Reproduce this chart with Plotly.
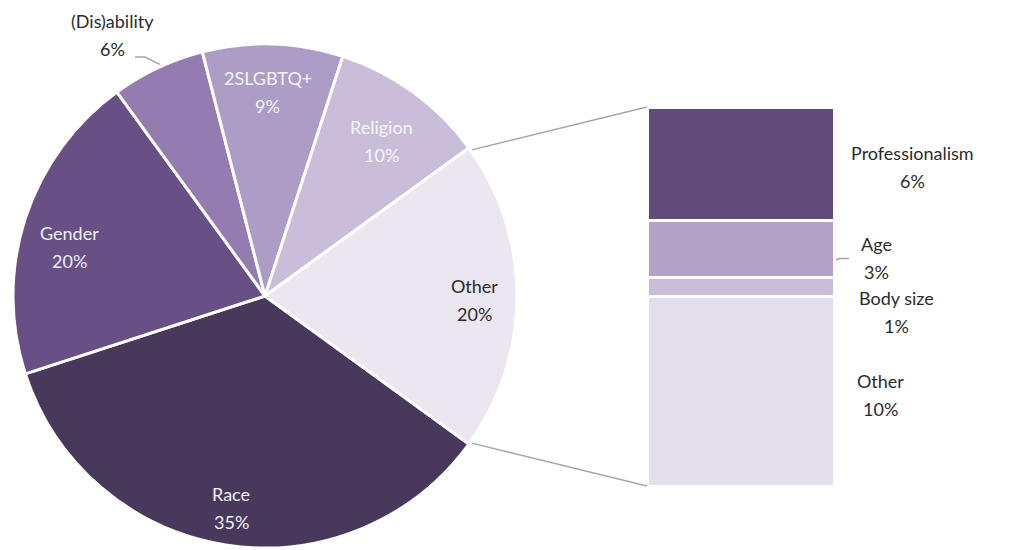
import math
import plotly.graph_objects as go

# Share of reported discrimination by basis (percent)
categories = ["Race", "Gender", "(Dis)ability", "2SLGBTQ+", "Religion", "Other"]
shares = [35, 20, 6, 9, 10, 20]

# Breakdown of the "Other" slice (percent of all responses)
other_parts = ["Professionalism", "Age", "Body size", "Other"]
other_shares = [6, 3, 1, 10]

pie_colors = ["#48395c", "#684f86", "#957cb0", "#ac9dc6", "#c9bdd9", "#ebe6f0"]
pie_text_colors = ["#f2f0f5", "#f2f0f5", "#2b2b2b", "#f5f3f8", "#f7f5fa", "#2b2b2b"]
bar_colors = ["#604b7b", "#b2a2c8", "#c9bdd9", "#e4dfec"]

W, H = 1012, 550
CX, CY, R = 265, 296, 252          # pie centre and radius in pixels
START = -36                        # first slice starts 36 deg below 3 o'clock, runs clockwise
BAR_X0, BAR_X1 = 647, 834          # stacked bar extent in pixels
BAR_Y0, BAR_Y1 = 107, 486
FONT = "Lato"
FONT_SIZE = 18
LINE_GAP = 14                      # half the distance between a label's two lines
TEXT = "#2b2b2b"
LINE = "#a6a6a6"


def px(x):
    return x / W


def py(y):
    return 1 - y / H


def on_circle(angle_deg, frac=1.0):
    a = math.radians(angle_deg)
    return CX + frac * R * math.cos(a), CY - frac * R * math.sin(a)


def two_line_label(name, value, color, **pos):
    """Name above, percentage below, each as its own annotation."""
    out = []
    for txt, dy in ((name, LINE_GAP), (f"{value}%", -LINE_GAP)):
        a = dict(pos)
        a["yshift"] = a.get("yshift", 0) + dy
        a.update(text=txt, showarrow=False, xanchor="center", yanchor="middle",
                 font=dict(family=FONT, size=FONT_SIZE, color=color))
        out.append(a)
    return out


fig = go.Figure()

fig.add_trace(go.Pie(
    labels=categories,
    values=shares,
    sort=False,
    direction="clockwise",
    rotation=90 - START,
    marker=dict(colors=pie_colors, line=dict(color="white", width=3)),
    textinfo="none",
    hoverinfo="skip",
    showlegend=False,
    domain=dict(x=[px(CX - R), px(CX + R)], y=[py(CY + R), py(CY - R)]),
))

# stacked bar, bottom segment first
total_other = sum(other_shares)
for name, val, col in zip(other_parts[::-1], other_shares[::-1], bar_colors[::-1]):
    fig.add_trace(go.Bar(
        x=[0], y=[val], name=name, width=1,
        marker=dict(color=col, line=dict(color="white", width=3)),
        hoverinfo="skip", showlegend=False,
        xaxis="x", yaxis="y",
    ))

annotations = []

# pie slice labels placed along each slice's mid angle
label_radius = [0.85, 0.80, 1.20, 0.81, 0.77, 0.83]
label_angle_adjust = [0, 4, 5, 1, -1, -1]
cum = 0
mid_angles = []
for cat, val, tcol, rf, adj in zip(categories, shares, pie_text_colors,
                                    label_radius, label_angle_adjust):
    span = 360 * val / sum(shares)
    mid = START - cum - span / 2
    mid_angles.append(mid)
    cum += span
    lx, ly = on_circle(mid + adj, rf)
    annotations += two_line_label(cat, val, tcol, x=px(lx), y=py(ly),
                                  xref="paper", yref="paper")

# bar segment labels: block left edge 18px right of the bar, lines centred in the block
label_yshift = {"Professionalism": -3, "Age": -9, "Body size": -25, "Other": -4}
label_xshift = {"Professionalism": 0, "Age": 6, "Body size": 0, "Other": 0}
label_widths = {"Professionalism": 121, "Age": 36, "Body size": 89, "Other": 56}
base = 0
centres = {}
for name, val in zip(other_parts[::-1], other_shares[::-1]):
    centres[name] = base + val / 2
    base += val
for name, val in zip(other_parts, other_shares):
    annotations += two_line_label(
        name, val, TEXT, x=0.5, y=centres[name], xref="x", yref="y",
        xshift=18 + label_xshift[name] + label_widths[name] / 2,
        yshift=label_yshift[name],
    )

shapes = []
# connectors from the "Other" slice edges to the bar corners
other_start = START - 360 * sum(shares[:-1]) / sum(shares)
for ang, by in ((other_start, BAR_Y0), (START, BAR_Y1)):
    sx, sy = on_circle(ang)
    shapes.append(dict(type="line", xref="paper", yref="paper",
                       x0=px(sx + 3), y0=py(sy + (2 if by == BAR_Y0 else -1)),
                       x1=px(BAR_X0), y1=py(by),
                       line=dict(color=LINE, width=1.5)))

# leader line for the (Dis)ability label
ex, ey = on_circle(mid_angles[2] - 2, 1.0)
shapes.append(dict(type="path", xref="paper", yref="paper",
                   path=f"M {px(135)},{py(57)} L {px(145)},{py(57)} L {px(ex - 6)},{py(ey)}",
                   line=dict(color=LINE, width=1.5)))
# leader line for the Age label
shapes.append(dict(type="path", xref="paper", yref="paper",
                   path=f"M {px(836)},{py(260)} L {px(839)},{py(258.5)} L {px(849)},{py(258.5)}",
                   line=dict(color=LINE, width=1.5)))

fig.update_layout(
    width=W, height=H,
    margin=dict(l=0, r=0, t=0, b=0),
    paper_bgcolor="white", plot_bgcolor="white",
    barmode="stack",
    xaxis=dict(domain=[px(BAR_X0), px(BAR_X1)], range=[-0.5, 0.5],
               visible=False, fixedrange=True),
    yaxis=dict(domain=[py(BAR_Y1), py(BAR_Y0)], range=[0, total_other],
               visible=False, fixedrange=True),
    annotations=annotations,
    shapes=shapes,
    font=dict(family=FONT),
)

fig.write_html("out.html", config={"displayModeBar": False})
